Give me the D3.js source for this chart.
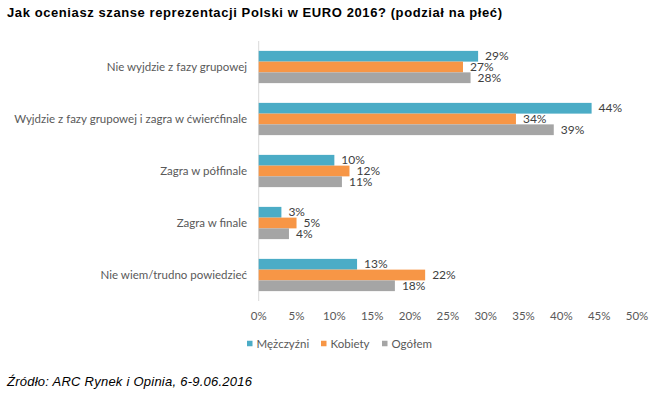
<!DOCTYPE html>
<html>
<head>
<meta charset="utf-8">
<script src="https://cdn.jsdelivr.net/npm/d3@7"></script>
<style>
body{margin:0;background:#fff;}
svg{display:block;}
</style>
</head>
<body>
<svg id="chart" width="655" height="394"></svg>
<script>
const categories=["Nie wyjdzie z fazy grupowej","Wyjdzie z fazy grupowej i zagra w ćwierćfinale","Zagra w półfinale","Zagra w finale","Nie wiem/trudno powiedzieć"];
const seriesNames=["Mężczyźni","Kobiety","Ogółem"];
const men=[29,44,10,3,13];
const women=[27,34,12,5,22];
const total=[28,39,11,4,18];
const xTicks=[0,5,10,15,20,25,30,35,40,45,50];
const colors=["#4bacc6","#f79646","#a5a5a5"];

const series=[men,women,total];
const svg=d3.select("#chart");
const font="Lato, 'Open Sans', sans-serif";

svg.append("text")
  .attr("x",7).attr("y",17)
  .attr("textLength",495).attr("lengthAdjust","spacing")
  .style("font-family","'Liberation Sans', Arial, sans-serif")
  .style("font-weight","bold").style("font-size","13px")
  .attr("fill","#000")
  .text("Jak oceniasz szanse reprezentacji Polski w EURO 2016? (podział na płeć)");

let x=d3.scaleLinear().domain([0,50]).range([258.7,637]);
let y=d3.scaleBand().domain(categories).range([41,301]).paddingInner(0.38).paddingOuter(0.19);
let y1=d3.scaleBand().domain(d3.range(3)).range([0,y.bandwidth()]);

svg.append("line")
  .attr("x1",x(0)).attr("x2",x(0))
  .attr("y1",41).attr("y2",301)
  .attr("stroke","#d9d9d9");

const g=svg.selectAll("g.cat")
  .data(categories)
  .enter()
    .append("g")
    .attr("class","cat")
    .attr("transform",(d)=>`translate(0,${y(d)})`);

g.append("text")
  .attr("x",247)
  .attr("y",y.bandwidth()/2)
  .attr("dy","0.35em")
  .attr("text-anchor","end")
  .style("font-family",font).style("font-size","11.5px")
  .attr("fill","#595959")
  .text((d)=>d);

series.forEach((s,si)=>{
  g.append("rect")
    .attr("x",x(0))
    .attr("y",y1(si))
    .attr("width",(d,i)=>x(s[i])-x(0))
    .attr("height",y1.bandwidth())
    .attr("fill",colors[si]);
  g.append("text")
    .attr("x",(d,i)=>x(s[i])+7)
    .attr("y",y1(si)+y1.bandwidth()/2)
    .attr("dy","0.35em")
    .style("font-family",font).style("font-size","12px")
    .attr("fill","#404040")
    .text((d,i)=>s[i]+"%");
});

svg.selectAll("text.tick")
  .data(xTicks)
  .enter()
    .append("text")
    .attr("class","tick")
    .attr("x",(d)=>x(d))
    .attr("y",320)
    .attr("text-anchor","middle")
    .style("font-family",font).style("font-size","11.5px")
    .attr("fill","#595959")
    .text((d)=>d+"%");

const legendX=[247,321,382];
const lg=svg.selectAll("g.legend")
  .data(seriesNames)
  .enter()
    .append("g")
    .attr("class","legend")
    .attr("transform",(d,i)=>`translate(${legendX[i]},343.5)`);
lg.append("rect")
  .attr("x",0).attr("y",-2.75)
  .attr("width",5.5).attr("height",5.5)
  .attr("fill",(d,i)=>colors[i]);
lg.append("text")
  .attr("x",9.5).attr("y",0)
  .attr("dy","0.35em")
  .style("font-family",font).style("font-size","11.5px")
  .attr("fill","#595959")
  .text((d)=>d);

svg.append("text")
  .attr("x",7).attr("y",386)
  .attr("textLength",245).attr("lengthAdjust","spacing")
  .style("font-family","'Liberation Sans', Arial, sans-serif")
  .style("font-style","italic").style("font-size","13px")
  .attr("fill","#000")
  .text("Źródło: ARC Rynek i Opinia, 6-9.06.2016");
</script>
</body>
</html>
